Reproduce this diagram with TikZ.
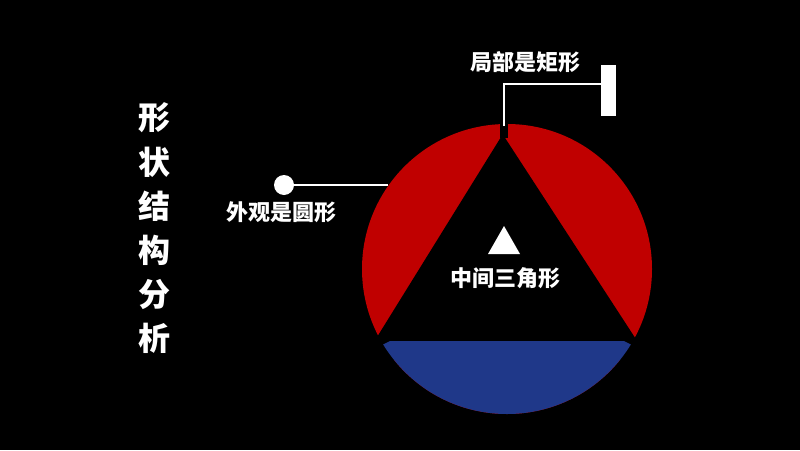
\documentclass[tikz,border=0pt]{standalone}
\usepackage{fontspec}
\newfontfamily\cjk{Noto Sans CJK SC}
\definecolor{circred}{RGB}{192,0,0}
\definecolor{segblue}{RGB}{31,56,137}
\tikzset{
  label/.style={text=white, font=\cjk\bfseries\fontsize{22}{24}\selectfont, inner sep=0pt},
  wire/.style={draw=white, line width=1.8pt},
}
\begin{document}
\begin{tikzpicture}[x=1pt,y=-1pt]
\fill[black] (0,0) rectangle (800,450);
\useasboundingbox (0,0) rectangle (800,450);
\coordinate (C) at (507,269);
% red disc
\fill[circred] (C) circle (145pt);
% black triangle wedge
\fill[black] (502.7,134.3) -- (649.5,360) -- (362.8,360) -- cycle;
\fill[black] (500,110) rectangle (508,138);
% blue bottom segment
\begin{scope}
  \clip (C) circle (145pt);
  \fill[segblue] (390,341) -- (624,341) -- (644,351) -- (660,351) -- (660,430) -- (350,430) -- (350,351) -- (370,351) -- cycle;
\end{scope}
% white triangle icon
\fill[white] (488,254) -- (520,254) -- (504,226) -- cycle;
% labels
\node[label] (mid) at (505.5,278) {中间三角形};
\node[label] (top) at (525,62) {局部是矩形};
\node[label] (outer) at (281.5,212.5) {外观是圆形};
% left connector
\node[circle, fill=white, minimum size=20pt, inner sep=0pt] (dot) at (284,185) {};
\coordinate (lend) at (388,185);
\draw[wire] (dot) -- (lend);
% top connector
\node[fill=white, minimum width=15pt, minimum height=51pt, inner sep=0pt] (bar) at (608.5,90.5) {};
\coordinate (tstart) at (504,126);
\coordinate (tcorner) at (504,84.3);
\draw[wire] (tstart) -- (tcorner) -- (tcorner -| bar.west);
% vertical title
\foreach \ch [count=\i from 0] in {形,状,结,构,分,析} {
  \node[text=white, font=\cjk\bfseries\fontsize{32}{34}\selectfont, inner sep=0pt] (v\i) at (154,118+44*\i) {\ch};
}
\end{tikzpicture}
\end{document}
